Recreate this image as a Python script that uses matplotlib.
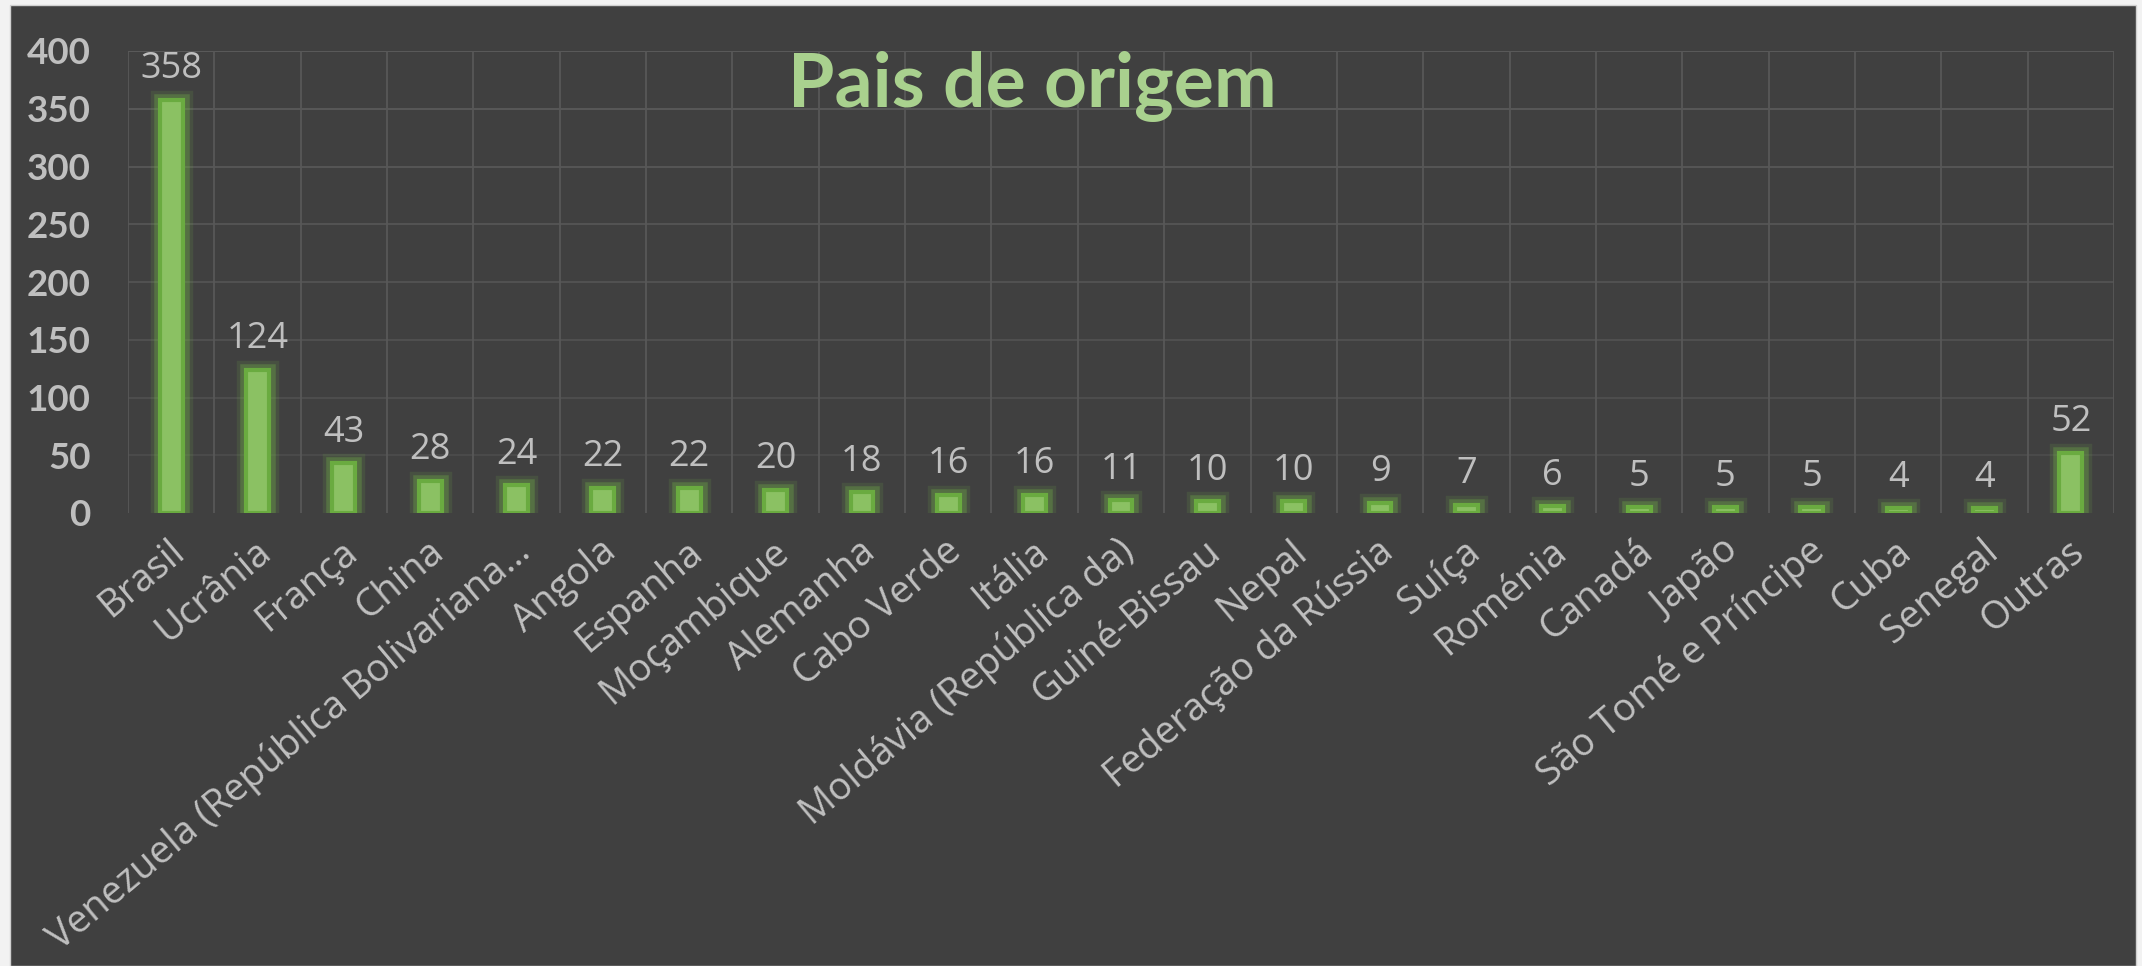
import matplotlib.pyplot as plt
import matplotlib.patheffects as pe
from matplotlib.patches import Rectangle
import numpy as np

# data
paises = ['Brasil', 'Ucrânia', 'França', 'China', 'Venezuela (República Bolivariana…',
          'Angola', 'Espanha', 'Moçambique', 'Alemanha', 'Cabo Verde', 'Itália',
          'Moldávia (República da)', 'Guiné-Bissau', 'Nepal', 'Federação da Rússia',
          'Suíça', 'Roménia', 'Canadá', 'Japão', 'São Tomé e Príncipe', 'Cuba',
          'Senegal', 'Outras']
valores = [358, 124, 43, 28, 24, 22, 22, 20, 18, 16, 16, 11, 10, 10, 9, 7, 6, 5, 5, 5, 4, 4, 52]
yticks = [0, 50, 100, 150, 200, 250, 300, 350, 400]

plt.rcParams['font.family'] = ['Lato', 'DejaVu Sans']
W, H = 2142, 966
fig = plt.figure(figsize=(W / 100, H / 100), dpi=100)
fig.patch.set_facecolor('#f2f2f2')
# dark chart area
fig.add_artist(Rectangle((10 / W, 0), 2126 / W, 961 / H, transform=fig.transFigure,
                         facecolor='#404040', edgecolor='#d0d0d0', lw=1, zorder=-10))

ax = fig.add_axes([128 / W, 453 / H, (2114 - 128) / W, (513 - 51) / H])
ax.set_zorder(5)
ax.set_facecolor('none')
x = np.arange(len(paises))

glow = [pe.Stroke(linewidth=14, foreground='#70ad47', alpha=0.15),
        pe.Stroke(linewidth=9, foreground='#70ad47', alpha=0.35),
        pe.Normal()]
bars = ax.bar(x, valores, width=0.265, color='#8bc163', edgecolor='#6aab40',
              linewidth=3, zorder=3)
for b in bars:
    b.set_path_effects(glow)

for xi, v in zip(x, valores):
    ax.annotate(str(v), (xi, v), xytext=(0, 9), textcoords='offset points',
                ha='center', va='bottom', fontsize=26, color='#bfbfbf', zorder=4,
                family=['Open Sans', 'DejaVu Sans'])

ax.set_xlim(-0.5, len(paises) - 0.5)
ax.set_ylim(0, 400)

# gridlines (fading towards the bottom like the original)
for t in yticks[1:]:
    a = 0.35 + 0.65 * t / 400
    ax.axhline(t, color='#5c5c5c', lw=1.3, alpha=a, zorder=1)
for b in np.arange(-0.5, len(paises), 1.0):
    ax.axvline(b, color='#585858', lw=1.3, zorder=1)

ax.set_yticks(yticks)
ax.set_yticklabels([str(t) for t in yticks], fontsize=26.5, fontweight='bold', color='#bfbfbf')
ax.tick_params(axis='y', length=0, pad=27)

# category labels, rotated, end of text just right of the bar centre
ax.set_xticks(x)
ax.set_xticklabels([])
ax.tick_params(axis='x', length=0)
for xi, nome in zip(x, paises):
    ax.annotate(nome, xy=(xi, 0), xycoords=('data', 'axes fraction'),
                xytext=(11, -30), textcoords='offset points',
                rotation=40, rotation_mode='anchor', ha='right', va='baseline',
                fontsize=27.5, color='#bfbfbf', family=['Open Sans', 'DejaVu Sans'],
                annotation_clip=False)
for s in ax.spines.values():
    s.set_visible(False)

fig.text(1032 / W, 1 - 107 / H, 'Pais de origem', ha='center', va='baseline',
         fontsize=54, fontweight='bold', color='#a9d18e', zorder=6)

fig.savefig('out.png', dpi=100, facecolor=fig.get_facecolor())
